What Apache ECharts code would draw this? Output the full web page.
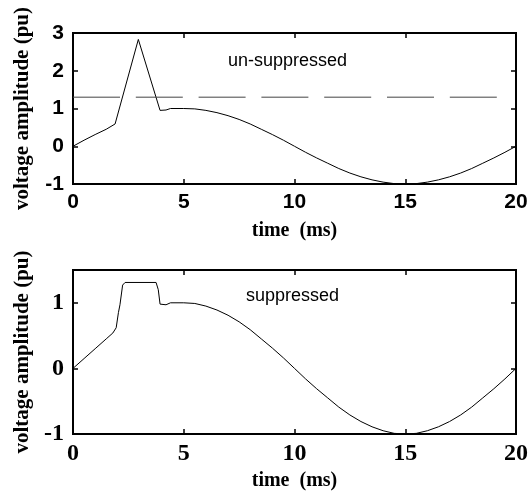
<!DOCTYPE html>
<html><head><meta charset="utf-8">
<script src="https://cdn.jsdelivr.net/npm/echarts@6/dist/echarts.min.js"></script>
<style>html,body{margin:0;padding:0;background:#fff}#c{width:532px;height:492px}</style>
</head><body><div id="c"></div>
<script>
// time samples (ms) and voltage readings (pu)
const timeTop = [0,0.5,1,1.5,1.9,2.95,3.93,4.2,4.4,5,5.5,6,6.5,7,7.5,8,8.5,9,9.5,10,10.5,11,11.5,12,12.5,13,13.5,14,14.5,15,15.5,16,16.5,17,17.5,18,18.5,19,19.5,20];
const unsuppressed = [0,0.16,0.31,0.45,0.59,2.83,0.95,0.96,1.0,1.0,0.99,0.95,0.89,0.81,0.71,0.59,0.45,0.31,0.16,0,-0.16,-0.31,-0.45,-0.59,-0.71,-0.81,-0.89,-0.95,-0.99,-1.0,-0.99,-0.95,-0.89,-0.81,-0.71,-0.59,-0.45,-0.31,-0.16,0];
const timeBottom = [0,0.5,1,1.5,1.8,1.95,2.05,2.12,2.24,2.35,3.75,3.85,3.93,4.2,4.4,5,5.5,6,6.5,7,7.5,8,8.5,9,9.5,10,10.5,11,11.5,12,12.5,13,13.5,14,14.5,15,15.5,16,16.5,17,17.5,18,18.5,19,19.5,20];
const suppressed = [0,0.15,0.3,0.45,0.54,0.62,0.85,0.97,1.27,1.31,1.31,1.2,0.98,0.97,1.0,1.0,0.99,0.95,0.89,0.81,0.71,0.59,0.45,0.31,0.16,0,-0.16,-0.31,-0.45,-0.59,-0.71,-0.81,-0.89,-0.95,-0.99,-1.0,-0.99,-0.95,-0.89,-0.81,-0.71,-0.59,-0.45,-0.31,-0.16,0];
const thresholdTime = [0,19.3];
const thresholdLevel = [1.3,1.3];
const xTickLabels = ['0','5','10','15','20'];
const xRange = [0,20];
const yTopRange = [-1,3];
const yBottomRange = [-1,1.5];
const xTitle = 'time  (ms)';
const yTitle = 'voltage amplitude (pu)';
const noteTop = 'un-suppressed';
const noteBottom = 'suppressed';

const zip = (a,b) => a.map((t,i)=>[t,b[i]]);

const sansBold = {fontFamily:'Liberation Sans, Arial, sans-serif', fontWeight:'bold', fontSize:21, color:'#000'};
const serifBold = {fontFamily:'Liberation Serif, Times New Roman, serif', fontWeight:'bold', fontSize:24, color:'#000'};
const titleFont = {fontFamily:'Liberation Serif, Times New Roman, serif', fontWeight:'bold', fontSize:20, color:'#000'};
const yTitleFont = {fontFamily:'Liberation Serif, Times New Roman, serif', fontWeight:'bold', fontSize:21, color:'#000'};

function xAxes(g, labelFont){
  return [{
    type:'value', gridIndex:g, min:xRange[0], max:xRange[1], interval:5, position:'bottom',
    axisLine:{show:true, onZero:false, lineStyle:{color:'#000', width:2}},
    axisTick:{show:true, inside:true, length:5, lineStyle:{color:'#000', width:1.5}},
    axisLabel:Object.assign({margin:8, formatter:(v)=>xTickLabels[Math.round(v/5)]}, labelFont),
    splitLine:{show:false},
    name:xTitle, nameLocation:'middle', nameGap:37, nameTextStyle:titleFont
  },{
    type:'value', gridIndex:g, min:xRange[0], max:xRange[1], interval:5, position:'top',
    axisLine:{show:true, onZero:false, lineStyle:{color:'#000', width:2}},
    axisTick:{show:true, inside:true, length:5, lineStyle:{color:'#000', width:1.5}},
    axisLabel:{show:false}, splitLine:{show:false}
  }];
}
function yAxes(g, range, labelFont){
  return [{
    type:'value', gridIndex:g, min:range[0], max:range[1], interval:1, position:'left',
    axisLine:{show:true, onZero:false, lineStyle:{color:'#000', width:2}},
    axisTick:{show:true, inside:true, length:5, lineStyle:{color:'#000', width:1.5}},
    axisLabel:Object.assign({margin:9, showMaxLabel: Number.isInteger(range[1]), padding:[5,0,0,0]}, labelFont),
    splitLine:{show:false},
    name:yTitle, nameLocation:'middle', nameGap:40, nameRotate:90, nameTextStyle:yTitleFont
  },{
    type:'value', gridIndex:g, min:range[0], max:range[1], interval:1, position:'right',
    axisLine:{show:true, onZero:false, lineStyle:{color:'#000', width:2}},
    axisTick:{show:true, inside:true, length:5, lineStyle:{color:'#000', width:1.5}},
    axisLabel:{show:false}, splitLine:{show:false}
  }];
}

const chart = echarts.init(document.getElementById('c'));
chart.setOption({
  animation:false,
  grid:[
    {left:73, top:33, width:443, height:151, show:true, borderColor:'#000', borderWidth:2},
    {left:73, top:270, width:443, height:165, show:true, borderColor:'#000', borderWidth:2}
  ],
  xAxis:[...xAxes(0, sansBold), ...xAxes(1, serifBold)],
  yAxis:[...yAxes(0, yTopRange, sansBold), ...yAxes(1, yBottomRange, serifBold)],
  series:[
    {type:'line', xAxisIndex:0, yAxisIndex:0, data:zip(timeTop, unsuppressed), showSymbol:false,
     lineStyle:{color:'#000', width:1}},
    {type:'line', xAxisIndex:0, yAxisIndex:0, data:zip(thresholdTime, thresholdLevel), showSymbol:false,
     lineStyle:{color:'#444', width:1, type:[47,15.8]}},
    {type:'line', xAxisIndex:2, yAxisIndex:2, data:zip(timeBottom, suppressed), showSymbol:false,
     lineStyle:{color:'#000', width:1}}
  ],
  graphic:[
    {type:'text', left:228, top:52, style:{text:noteTop, font:'18px "Liberation Sans", Arial, sans-serif', fill:'#000'}},
    {type:'text', left:246, top:287, style:{text:noteBottom, font:'18px "Liberation Sans", Arial, sans-serif', fill:'#000'}}
  ]
});
</script></body></html>
